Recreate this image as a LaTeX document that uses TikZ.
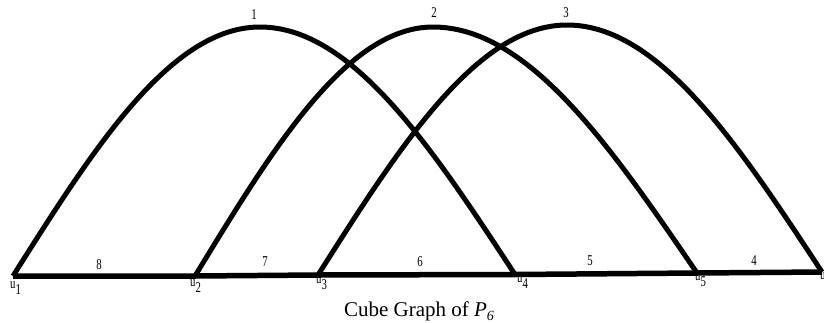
\documentclass[tikz,border=0pt]{standalone}
\usepackage{fontspec}
\setmainfont{Liberation Serif}
\newcommand{\narrow}[1]{\scalebox{0.72}[1]{#1}}
\newcommand{\vlab}[1]{\narrow{u\raisebox{-6pt}{#1}}}
\begin{document}
\begin{tikzpicture}[x=1pt,y=-1pt,
  arcedge/.style={line width=5pt},
  baseedge/.style={line width=5.5pt,line join=round},
  elab/.style={inner sep=0pt,font=\fontsize{15}{15}\selectfont},
  vlabel/.style={inner sep=0pt,anchor=base west,font=\fontsize{15}{15}\selectfont},
  caption/.style={inner sep=0pt,anchor=base,font=\fontsize{21}{21}\selectfont}]
\useasboundingbox (0,0) rectangle (824,322);
% vertices
\coordinate (u1) at (13,276);
\coordinate (u2) at (195,276);
\coordinate (u3) at (318,275);
\coordinate (u4) at (515,274.5);
\coordinate (u5) at (697,273);
\coordinate (u6) at (822,272);
% arc peaks
\coordinate (p1) at (260,27);
\coordinate (p2) at (433,27);
\coordinate (p3) at (567,25);
% arcs
\draw[arcedge] (u1) sin (p1) cos (u4);
\draw[arcedge] (u2) sin (p2) cos (u5);
\draw[arcedge] (u3) sin (p3) cos (u6);
% base path
\draw[baseedge] (u1) -- (u2) -- (u3) -- (u4) -- (u5) -- (u6);
% arc labels
\node[elab] (l1) at (254,15) {\narrow{1}};
\node[elab] (l2) at (434,13) {\narrow{2}};
\node[elab] (l3) at (566,13) {\narrow{3}};
% base labels
\node[elab] (l8) at (99,265) {\narrow{8}};
\node[elab] (l7) at (265,262) {\narrow{7}};
\node[elab] (l6) at (420,262) {\narrow{6}};
\node[elab] (l5) at (590,261) {\narrow{5}};
\node[elab] (l4) at (754,261) {\narrow{4}};
% vertex labels
\node[vlabel] (n1) at (10,288) {\vlab{1}};
\node[vlabel] (n2) at (190,286) {\vlab{2}};
\node[vlabel] (n3) at (316,283) {\vlab{3}};
\node[vlabel] (n4) at (517,282) {\vlab{4}};
\node[vlabel] (n5) at (695,280) {\vlab{5}};
\node[vlabel] (n6) at (820,279) {\vlab{6}};
% caption
\node[caption] (cap) at (419,316) {Cube Graph of \textit{P\raisebox{-4pt}{\fontsize{14}{14}\selectfont 6}}};
\end{tikzpicture}
\end{document}
